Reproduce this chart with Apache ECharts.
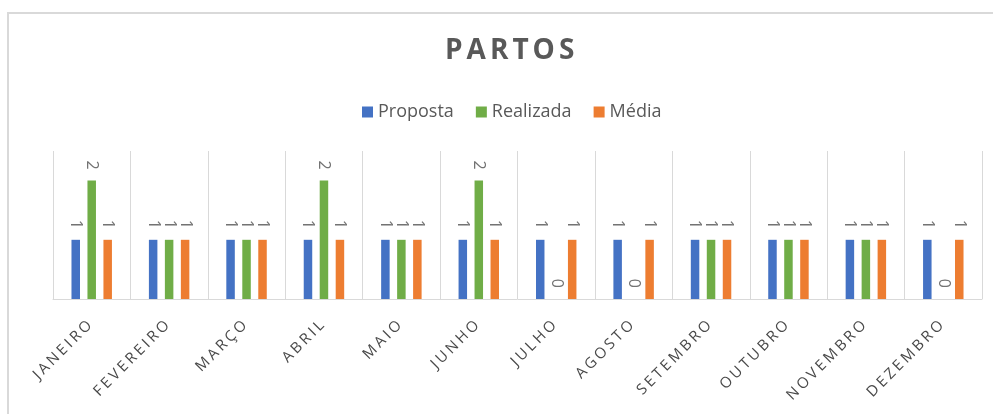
<!DOCTYPE html>
<html>
<head>
<meta charset="utf-8">
<script src="https://cdn.jsdelivr.net/npm/echarts@6/dist/echarts.min.js"></script>
<style>
html,body{margin:0;padding:0;background:#fff;}
#chart{width:993px;height:414px;}
</style>
</head>
<body>
<div id="chart"></div>
<script>
// Data
const categories = ['JANEIRO','FEVEREIRO','MARÇO','ABRIL','MAIO','JUNHO','JULHO','AGOSTO','SETEMBRO','OUTUBRO','NOVEMBRO','DEZEMBRO'];
const seriesNames = ['Proposta','Realizada','Média'];
const proposta  = [1,1,1,1,1,1,1,1,1,1,1,1];
const realizada = [2,1,1,2,1,2,0,0,1,1,1,0];
const media     = [1,1,1,1,1,1,1,1,1,1,1,1];
const chartTitle = 'PARTOS';

// letter-spacing support for canvas text (font family marker "lspN")
(function(){
  const proto = CanvasRenderingContext2D.prototype;
  const orig = proto.fillText;
  proto.fillText = function(t, x, y, w){
    if ('letterSpacing' in this) {
      const m = /lsp(\d+)/.exec(this.font || '');
      const ls = m ? (m[1] + 'px') : '0px';
      if (this.letterSpacing !== ls) {
        this.letterSpacing = ls;
        const f = this.font;
        this.font = f;
      }
    }
    return (w === undefined) ? orig.call(this, t, x, y) : orig.call(this, t, x, y, w);
  };
})();

const colors = ['#4472C4','#70AD47','#ED7D31'];
const labelStyle = {
  show: true,
  position: 'top',
  rotate: -90,
  align: 'right',
  verticalAlign: 'middle',
  distance: 11,
  fontSize: 16,
  color: '#737373',
  fontFamily: "'Open Sans'"
};

const chart = echarts.init(document.getElementById('chart'), null, {renderer:'canvas'});
chart.setOption({
  animation: false,
  color: colors,
  title: {
    text: chartTitle,
    left: 440,
    top: 32,
    textStyle: {fontSize: 28, fontWeight: 'bold', color: '#595959', fontFamily: "'Open Sans', lsp4"}
  },
  legend: {
    data: seriesNames,
    left: 357,
    top: 98,
    icon: 'rect',
    itemWidth: 11,
    itemHeight: 11,
    itemGap: 22,
    textStyle: {fontSize: 18, color: '#595959', fontFamily: "'Open Sans'"}
  },
  graphic: [{
    type: 'rect',
    shape: {x: 8, y: 13, width: 1200, height: 800},
    style: {fill: 'none', stroke: '#d9d9d9', lineWidth: 2},
    silent: true
  }],
  grid: {left: 53, right: 11, top: 151, bottom: 115},
  xAxis: {
    type: 'category',
    data: categories,
    axisLine: {lineStyle: {color: '#d9d9d9', width: 1}},
    axisTick: {show: false},
    splitLine: {show: true, lineStyle: {color: '#d9d9d9', width: 1}},
    axisLabel: {
      interval: 0,
      rotate: 45,
      margin: 22,
      fontSize: 15,
      color: '#4a4a4a',
      fontFamily: "'Open Sans', lsp3"
    }
  },
  yAxis: {
    type: 'value',
    min: 0,
    max: 2.5,
    show: false,
    splitLine: {show: false}
  },
  series: [
    {name: seriesNames[0], type: 'bar', data: proposta, barWidth: 8.5, barGap: '88%', label: labelStyle},
    {name: seriesNames[1], type: 'bar', data: realizada, barWidth: 8.5, barGap: '88%', label: labelStyle},
    {name: seriesNames[2], type: 'bar', data: media, barWidth: 8.5, barGap: '88%', label: labelStyle}
  ]
});
</script>
</body>
</html>
